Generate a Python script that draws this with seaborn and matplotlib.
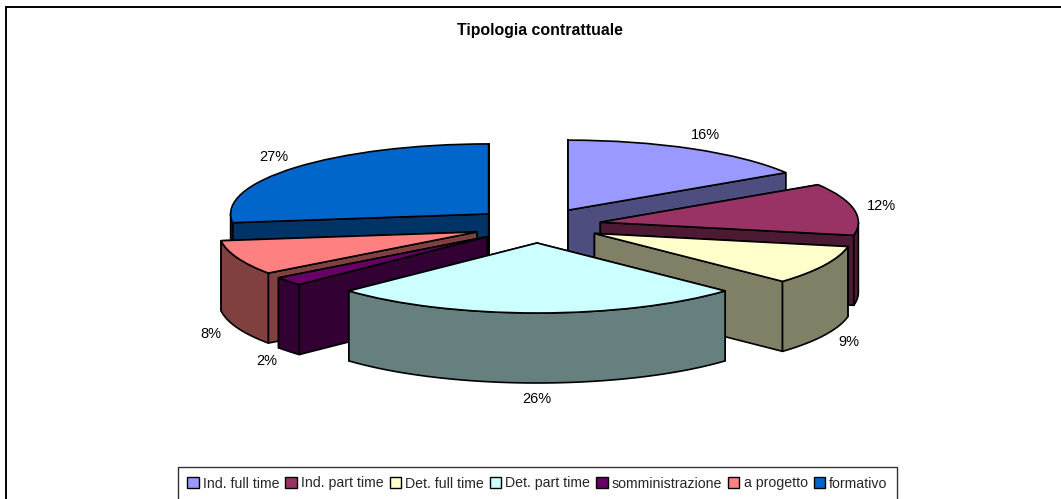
# -*- coding: utf-8 -*-
import numpy as np
import matplotlib
matplotlib.use("Agg")
import matplotlib.pyplot as plt
from matplotlib.patches import Patch, Polygon
import seaborn as sns

categories = ["Ind. full time", "Ind. part time", "Det. full time", "Det. part time",
              "somministrazione", "a progetto", "formativo"]
values = [16, 12, 9, 26, 2, 8, 27]
top_colors = ["#9999FF", "#993366", "#FFFFCC", "#CCFFFF", "#660066", "#FF8080", "#0066CC"]
title = "Tipologia contrattuale"

W, H = 1061, 499
CX, CY = 537, 225.5      # pie centre in pixels
RX, RY = 258, 70         # ellipse radii in pixels
depth = 1.0              # wall height, in units of RY

sns.set_theme(style="white")
plt.rcParams['font.family'] = ['Liberation Sans', 'DejaVu Sans']
top_palette = sns.color_palette(top_colors)
wall_palette = [tuple(c * 0.5 for c in col) for col in top_palette]

fig = plt.figure(figsize=(W / 100, H / 100), dpi=100)
ax = fig.add_axes([0, 0, 1, 1])

wedges, _ = ax.pie(values, explode=[0.25] * len(values), startangle=90, counterclock=False,
                   colors=top_palette, wedgeprops=dict(edgecolor="black", linewidth=1.2))

# stretch the pie into the tilted ellipse
ax.set_aspect("auto")
ax.set_xlim(-CX / RX, (W - CX) / RX)
ax.set_ylim((CY - H) / RY, CY / RY)
ax.axis("off")


def rim(w, a, b):
    t = np.radians(np.linspace(a, b, 60))
    return np.column_stack([w.center[0] + w.r * np.cos(t), w.center[1] + w.r * np.sin(t)])


def wall(points, color, z):
    drop = points - [0, depth]
    poly = np.vstack([points, drop[::-1]])
    ax.add_patch(Polygon(poly, closed=True, facecolor=color, edgecolor="black",
                         linewidth=1.2, zorder=z, joinstyle="round"))


# paint from the back slice to the front slice
order = sorted(range(len(wedges)), key=lambda i: -wedges[i].center[1])
for n, i in enumerate(order):
    w = wedges[i]
    z = 2 + n
    radial = []
    for a in (w.theta1, w.theta2):
        end = rim(w, a, a)[0]
        radial.append(np.array([w.center, end]))
    radial.sort(key=lambda p: -p[1][1])
    for p in radial:
        wall(p, wall_palette[i], z)
    # visible rim parts are the ones on the lower half of the ellipse
    for lo, hi in ((-180, 0), (-540, -360), (180, 360)):
        a, b = max(w.theta1, lo), min(w.theta2, hi)
        if b > a:
            wall(rim(w, a, b), wall_palette[i], z)
    w.set_zorder(z + 0.5)

    # percent label just outside the rim
    mid = np.radians((w.theta1 + w.theta2) / 2)
    lx = w.center[0] + np.cos(mid) * (w.r + 28 / RX)
    ly = w.center[1] + np.sin(mid) * w.r
    if np.sin(mid) > 0:
        ly += 16 / RY * np.sin(mid)
    else:
        ly += -depth + 16 / RY * np.sin(mid)
    ax.text(lx, ly, "%d%%" % values[i], ha="center", va="center", fontsize=10.5,
            color="black", zorder=20)

fig.text(540 / W, 1 - 31 / H, title, ha="center", va="center", fontsize=11.4,
         fontweight="bold", color="black")

handles = [Patch(facecolor=c, edgecolor="black", linewidth=1) for c in top_palette]
leg = fig.legend(handles, categories, ncol=len(categories), loc="center",
                 bbox_to_anchor=(537.5 / W, 1 - 483.5 / H), frameon=True, fancybox=False,
                 fontsize=10.2, handlelength=0.8, handleheight=0.8, handletextpad=0.3,
                 columnspacing=0.42, borderpad=0.68, borderaxespad=0)
leg.get_frame().set_edgecolor("#333333")
leg.get_frame().set_linewidth(1)
leg.get_frame().set_alpha(1)

# chart frame: only the top and left edges fall inside the picture
fig.add_artist(plt.Rectangle((5.5 / W, -0.1), 1.1, 1.1 - 7.5 / H, fill=False,
                             edgecolor="black", linewidth=1.4, transform=fig.transFigure))

fig.savefig("out.png", dpi=100)
